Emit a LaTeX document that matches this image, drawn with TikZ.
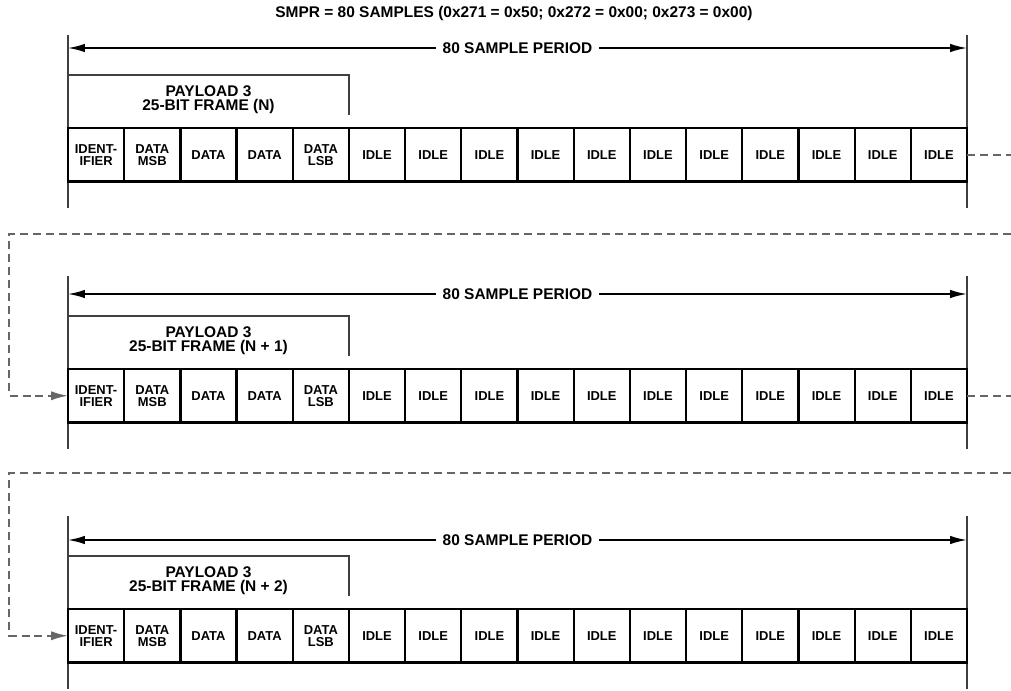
\documentclass[tikz,border=0pt]{standalone}
\usepackage{fontspec}
\setmainfont{Liberation Sans}
\usetikzlibrary{arrows.meta}
\tikzset{
  slot/.style={draw, line width=1.6pt, minimum width=1.4047cm, minimum height=1.3375cm,
      inner sep=0pt, outer sep=0pt, align=center, font=\fontsize{9.2}{8.4}\selectfont\bfseries},
  framebar/.style={line width=1.3pt, draw=black!75},
  periodarrow/.style={line width=1.2pt,
      {Latex[length=12pt,width=6pt]}-{Latex[length=12pt,width=6pt]}},
  bigtext/.style={font=\fontsize{11}{10}\selectfont\bfseries, align=center},
  loopline/.style={line width=1.3pt, draw=black!60, dash pattern=on 5.7pt off 3.5pt},
}

\begin{document}
\begin{tikzpicture}[x=0.025cm, y=-0.025cm]
  \useasboundingbox (0,0) rectangle (1011,690);
  \node[bigtext] (title) at (514,14) {SMPR = 80 SAMPLES (0x271 = 0x50; 0x272 = 0x00; 0x273 = 0x00)};
  % one row per frame
  \foreach \r/\ct/\ay/\fr in {1/128/48/N, 2/369/294/N + 1, 3/609/540/N + 2} {
    \draw[framebar] (68,\ct-93) -- (68,\ct+80);
    \draw[framebar] (967,\ct-93) -- (967,\ct+80);
    \coordinate (pl\r) at (68,\ay);
    \coordinate (pr\r) at (967,\ay);
    \draw[periodarrow] (pl\r) -- node[bigtext, fill=white, inner xsep=5pt] (per\r) {80 SAMPLE PERIOD} (pr\r);
    \draw[framebar, line width=1.1pt] (68,\ct-53) -| (349,\ct-13);
    \node[bigtext] (pay\r) at (208.5,\ct-28) {PAYLOAD 3\\25-BIT FRAME (\fr)};
    \foreach \t [count=\i] in {{IDENT-\\IFIER},{DATA\\MSB},DATA,DATA,{DATA\\LSB},
        IDLE,IDLE,IDLE,IDLE,IDLE,IDLE,IDLE,IDLE,IDLE,IDLE,IDLE}
      \node[slot] (c\r-\i) at ({68+(\i-0.5)*56.1875},\ct+26.75) {\t};
  }
  % wrap-around links
  \coordinate (out1) at (1011,154.75);
  \coordinate (in2) at (1011,234);
  \coordinate (out2) at (1011,395.75);
  \coordinate (in3) at (1011,473);
  \draw[loopline] (c1-16.east) -- (out1);
  \draw[loopline, -{Latex[length=12pt,width=6.5pt]}] (in2) -- (9,234) |- (c2-1.west);
  \draw[loopline] (c2-16.east) -- (out2);
  \draw[loopline, -{Latex[length=12pt,width=6.5pt]}] (in3) -- (9,473) |- (c3-1.west);
\end{tikzpicture}
\end{document}
